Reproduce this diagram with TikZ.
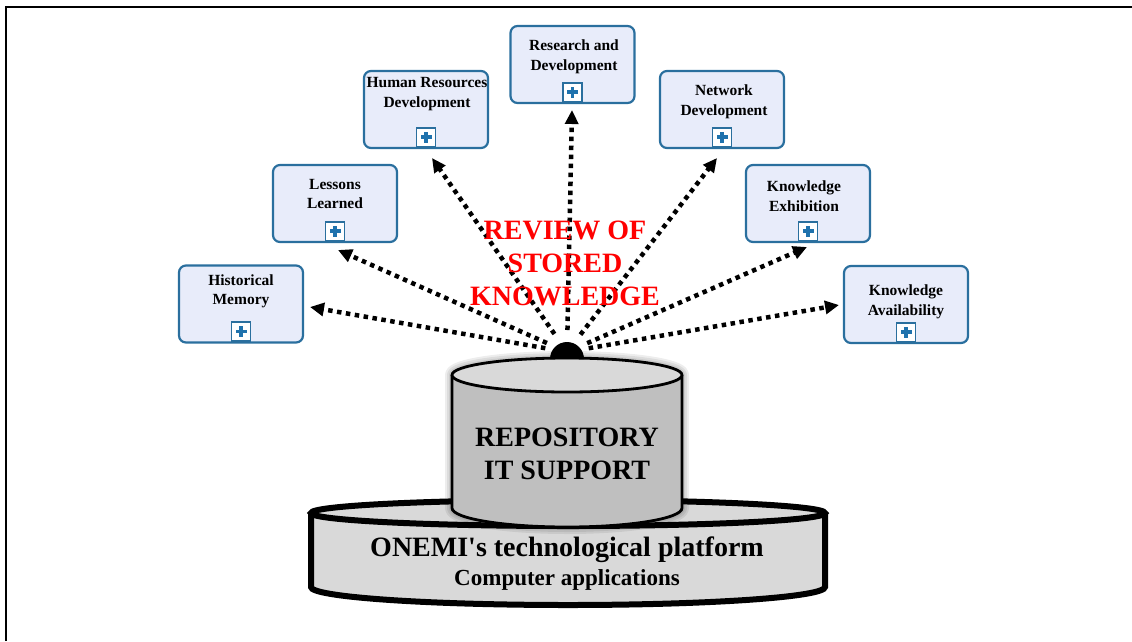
\documentclass[tikz,border=0pt]{standalone}
\usepackage{fontspec}
\setmainfont{Liberation Serif}[Ligatures=TeXOff]
\usetikzlibrary{arrows.meta}
\definecolor{boxfill}{HTML}{E8ECFA}
\definecolor{boxline}{HTML}{2A6F9E}
\definecolor{plusblue}{HTML}{1F72AD}
\definecolor{cylbody}{HTML}{BFBFBF}
\definecolor{cyltop}{HTML}{D9D9D9}
\definecolor{platfill}{HTML}{D9D9D9}
\definecolor{revred}{HTML}{FF0000}
\begin{document}
\begin{tikzpicture}[x=1pt,y=-1pt,
  cbox/.style={draw=boxline, fill=boxfill, line width=2.2pt, rounded corners=7pt,
    minimum width=124pt, minimum height=77pt, inner sep=0pt},
  btxt/.style={font=\fontsize{15.5}{19.5}\selectfont\bfseries, align=center, inner sep=0pt},
  plusicon/.style={draw=boxline, fill=white, line width=1.8pt, minimum size=19pt, inner sep=0pt,
    path picture={
      \fill[plusblue] ([xshift=-5.5pt,yshift=-1.8pt]path picture bounding box.center) rectangle ([xshift=5.5pt,yshift=1.8pt]path picture bounding box.center);
      \fill[plusblue] ([xshift=-1.8pt,yshift=-5.5pt]path picture bounding box.center) rectangle ([xshift=1.8pt,yshift=5.5pt]path picture bounding box.center);}},
  darrow/.style={line width=4.5pt, dash pattern=on 4.5pt off 4.5pt, -{Triangle[length=14pt,width=13pt]}, shorten <=22pt},
  bigtxt/.style={font=\fontsize{28}{33}\selectfont\bfseries, align=center, inner sep=0pt},
  redtxt/.style={bigtxt, text=revred},
  glow/.style={line width=#1, opacity=.07, line join=round}
]
\useasboundingbox (0,0) rectangle (1132,641);
\draw[line width=1.5pt] (6,641) -- (6,7) -- (1132,7);

% platform
\fill[platfill] (311,513) -- (311,587) arc[start angle=180,end angle=360,x radius=257pt,y radius=18pt] -- (825,513) -- cycle;
\draw[line width=6pt, fill=platfill] (568,513) ellipse[x radius=257pt, y radius=13pt];
\draw[line width=6pt] (311,513) -- (311,587) arc[start angle=180,end angle=360,x radius=257pt,y radius=18pt] -- (825,513);
\node[bigtxt] (plat) at (567,550) {ONEMI's technological platform};
\node[font=\fontsize{23}{27}\selectfont\bfseries, inner sep=0pt] (apps) at (567,580) {Computer applications};

% repository cylinder glow
\foreach \w in {14pt,10pt,6pt}{
  \draw[glow=\w] (452,375) -- (452,508) arc[start angle=180,end angle=360,x radius=115pt,y radius=19pt] -- (682,375) arc[start angle=0,end angle=180,x radius=115pt,y radius=17pt] -- cycle;
}
\draw[line width=2.8pt, fill=cylbody] (452,375) -- (452,508) arc[start angle=180,end angle=360,x radius=115pt,y radius=19pt] -- (682,375);
\draw[line width=2.8pt, fill=cyltop] (567,375) ellipse[x radius=115pt, y radius=17pt];
\node[bigtxt] (repo) at (567,454) {REPOSITORY\\IT SUPPORT};

% hub
\coordinate (hub) at (567,352);
\fill (550,359) arc[start angle=180,end angle=0,radius=17pt] -- cycle;

% boxes
\node[cbox] (hm) at (241,304) {};
\node[cbox] (ll) at (335,203.5) {};
\node[cbox] (hr) at (426,109.5) {};
\node[cbox] (rd) at (572.5,64.5) {};
\node[cbox] (nd) at (722,109.5) {};
\node[cbox] (ke) at (808,203.5) {};
\node[cbox] (ka) at (906,304.5) {};

\node[btxt] (hmt) at (241,291.5) {Historical\\Memory};
\node[btxt] (llt) at (335,194) {Lessons\\Learned};
\node[btxt] (hrt) at (427,94) {Human Resources\\Development};
\node[btxt] (rdt) at (574,57) {Research and\\Development};
\node[btxt] (ndt) at (724,102) {Network\\Development};
\node[btxt] (ket) at (804,196) {Knowledge\\Exhibition};
\node[btxt] (kat) at (906,302) {Knowledge\\Availability};

\foreach \b in {hm,ll,hr,rd,nd,ke,ka}{
  \node[plusicon] (\b p) at ([yshift=12pt]\b.south) {};
}

% arrow tips
\coordinate (t1) at (310,307);
\coordinate (t2) at (338,250);
\coordinate (t3) at (432,158);
\coordinate (t4) at (572,110);
\coordinate (t5) at (717,158);
\coordinate (t6) at (807,247);
\coordinate (t7) at (839,305);
\foreach \t in {t1,t2,t3,t4,t5,t6,t7}{
  \draw[darrow] (hub) -- (\t);
}

\node[redtxt] (review) at (565,263) {REVIEW OF\\STORED\\KNOWLEDGE};
\end{tikzpicture}
\end{document}
